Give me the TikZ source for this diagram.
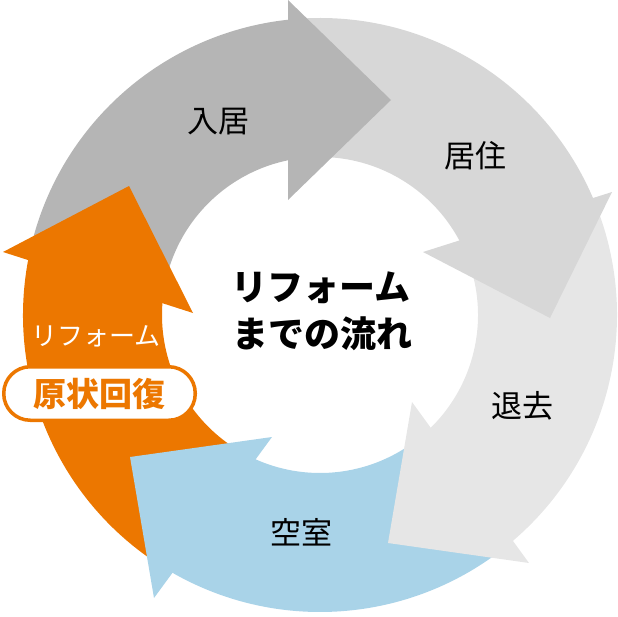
\documentclass[tikz,border=0pt]{standalone}
\usepackage{fontspec}
\newfontfamily\jp{Noto Sans CJK JP}
\definecolor{cA}{HTML}{B5B5B5}
\definecolor{cB}{HTML}{D7D7D7}
\definecolor{cC}{HTML}{E6E6E6}
\definecolor{cD}{HTML}{A9D3E8}
\definecolor{cE}{HTML}{EC7700}
\tikzset{
  lbl/.style={font=\jp\fontsize{31}{31}\selectfont, text=black, inner sep=0pt},
  ctr/.style={font=\jp\bfseries\fontsize{36}{36}\selectfont, text=black, inner sep=0pt},
  wlbl/.style={font=\jp\fontsize{26}{26}\selectfont, text=white, inner sep=0pt},
  pill/.style={draw=cE, line width=3.5pt, fill=white, rounded corners=26.5pt,
    minimum width=191.5pt, minimum height=53.5pt, inner sep=0pt,
    font=\jp\bfseries\fontsize{33}{33}\selectfont, text=cE}
}
\begin{document}
\begin{tikzpicture}[x=1pt,y=-1pt]
\useasboundingbox (0,0) rectangle (618,616);
\coordinate (C) at (320,315);
% bodies (annular sectors, joints hidden under heads)
\begin{scope}[shift={(320,315)}]
\fill[cA] (193:297) arc[start angle=193,end angle=266,radius=297]
  -- (266:158) arc[start angle=266,end angle=193,radius=158] -- cycle;
\fill[cB] (266:297) arc[start angle=266,end angle=339,radius=297]
  -- (339:158) arc[start angle=339,end angle=266,radius=158] -- cycle;
\fill[cC] (339:297) arc[start angle=339,end angle=412,radius=297]
  -- (412:158) arc[start angle=412,end angle=339,radius=158] -- cycle;
\fill[cD] (52:297) arc[start angle=52,end angle=122,radius=297]
  -- (122:158) arc[start angle=122,end angle=52,radius=158] -- cycle;
\fill[cE] (122:297) arc[start angle=122,end angle=193,radius=297]
  -- (193:158) arc[start angle=193,end angle=122,radius=158] -- cycle;
\end{scope}
% heads
\fill[cA] (288,0) -- (391,100) -- (288,200) -- cycle;
\fill[cB] (612,192) -- (550,318) -- (423,252) -- cycle;
\fill[cC] (412,402) -- (388,543) -- (529,563) -- cycle;
\fill[cD] (272,437) -- (130,457) -- (154,598) -- cycle;
\fill[cE] (3,252) -- (129,186) -- (193,313) -- cycle;
% labels
\node[lbl] (nyukyo) at (218,122) {入居};
\node[lbl] (kyoju) at (475,156) {居住};
\node[lbl] (taikyo) at (522,406) {退去};
\node[lbl] (kushitsu) at (301,532) {空室};
\node[wlbl] (reform) at (96,336) {リフォーム};
\node[pill] (genjo) at (99.5,393.5) {原状回復};
\node[ctr] (title1) at (321,288) {リフォーム};
\node[ctr] (title2) at (322,334) {までの流れ};
\end{tikzpicture}
\end{document}
